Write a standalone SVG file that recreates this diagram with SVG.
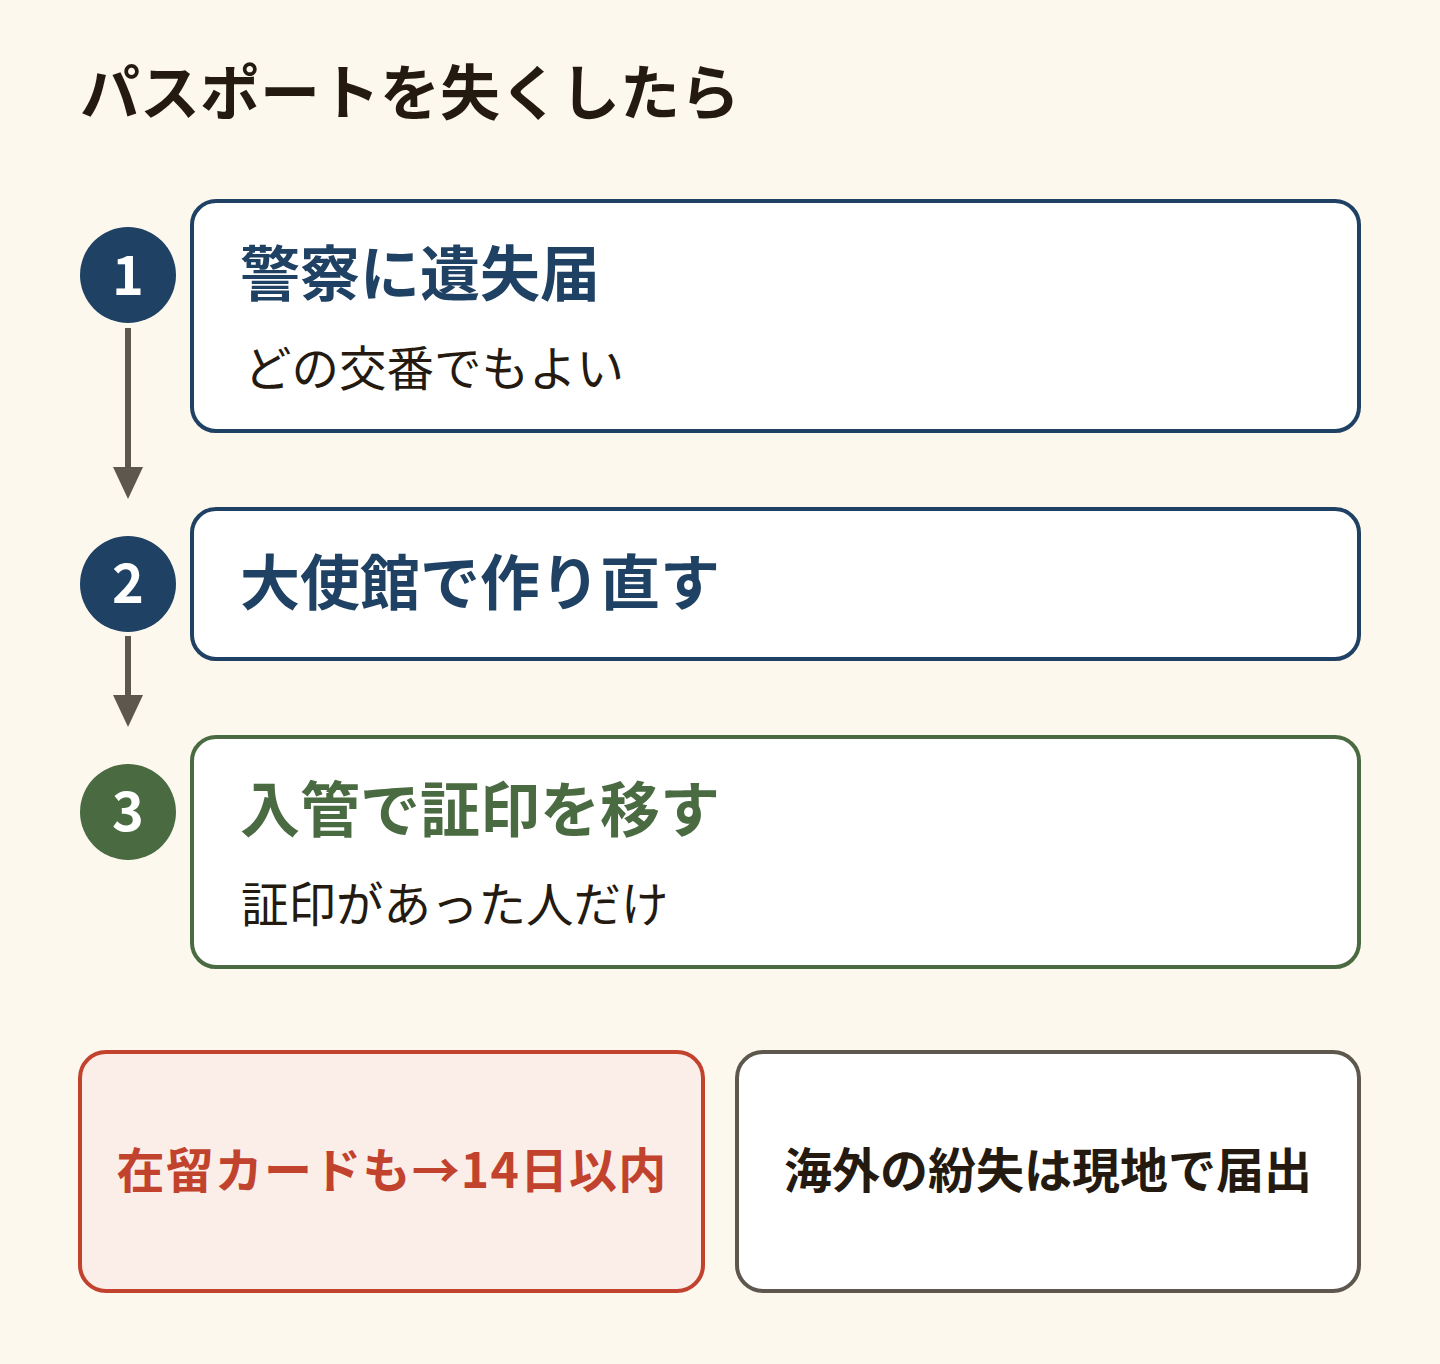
<svg xmlns="http://www.w3.org/2000/svg" width="1440" height="1364" viewBox="0 0 1440 1364">
  <defs>
    <style>
      text { font-family: "Noto Sans CJK JP", "Noto Sans", sans-serif; }
      .title { font-size: 60px; font-weight: 700; fill: #241a10; }
      .box { fill: #ffffff; stroke-width: 4; }
      .navy { stroke: #1f4163; }
      .green { stroke: #4a6b42; }
      .h-navy { font-size: 60px; font-weight: 700; fill: #1f4163; }
      .h-green { font-size: 60px; font-weight: 700; fill: #4a6b42; }
      .sub { font-size: 47.5px; font-weight: 400; fill: #241a10; }
      .num { font-size: 54px; font-weight: 700; fill: #ffffff; text-anchor: middle; }
      .note { font-size: 48px; font-weight: 700; text-anchor: middle; }
      .conn { stroke: #5e574d; stroke-width: 6; fill: none; }
      .head { fill: #5e574d; }
    </style>
  </defs>
  <rect x="0" y="0" width="1440" height="1364" fill="#fcf8ee"/>
  <text class="title" x="80" y="115">パスポートを失くしたら</text>

  <g id="connectors">
    <line class="conn" x1="128" y1="328" x2="128" y2="470"/>
    <polygon class="head" points="113,467 143,467 128,499"/>
    <line class="conn" x1="128" y1="636" x2="128" y2="698"/>
    <polygon class="head" points="113,695 143,695 128,727"/>
  </g>

  <g id="step1">
    <circle cx="128" cy="275" r="48" fill="#1f4163"/>
    <text class="num" x="128" y="295">1</text>
    <rect class="box navy" x="192" y="201" width="1167" height="230" rx="24"/>
    <text class="h-navy" x="240" y="296">警察に遺失届</text>
    <text class="sub" x="244" y="386">どの交番でもよい</text>
  </g>

  <g id="step2">
    <circle cx="128" cy="584" r="48" fill="#1f4163"/>
    <text class="num" x="128" y="603">2</text>
    <rect class="box navy" x="192" y="509" width="1167" height="150" rx="24"/>
    <text class="h-navy" x="240" y="605">大使館で作り直す</text>
  </g>

  <g id="step3">
    <circle cx="128" cy="812" r="48" fill="#4a6b42"/>
    <text class="num" x="128" y="831">3</text>
    <rect class="box green" x="192" y="737" width="1167" height="230" rx="24"/>
    <text class="h-green" x="240" y="832">入管で証印を移す</text>
    <text class="sub" x="241" y="922">証印があった人だけ</text>
  </g>

  <g id="note-residence">
    <rect x="80" y="1052" width="623" height="239" rx="26" fill="#fbede8" stroke="#c2432d" stroke-width="4"/>
    <text class="note" x="392" y="1188" fill="#c2432d" letter-spacing="1.2">在留カードも→14日以内</text>
  </g>

  <g id="note-overseas">
    <rect x="737" y="1052" width="622" height="239" rx="26" fill="#ffffff" stroke="#5e574d" stroke-width="4"/>
    <text class="note" x="1048" y="1188" fill="#241a10">海外の紛失は現地で届出</text>
  </g>
</svg>
